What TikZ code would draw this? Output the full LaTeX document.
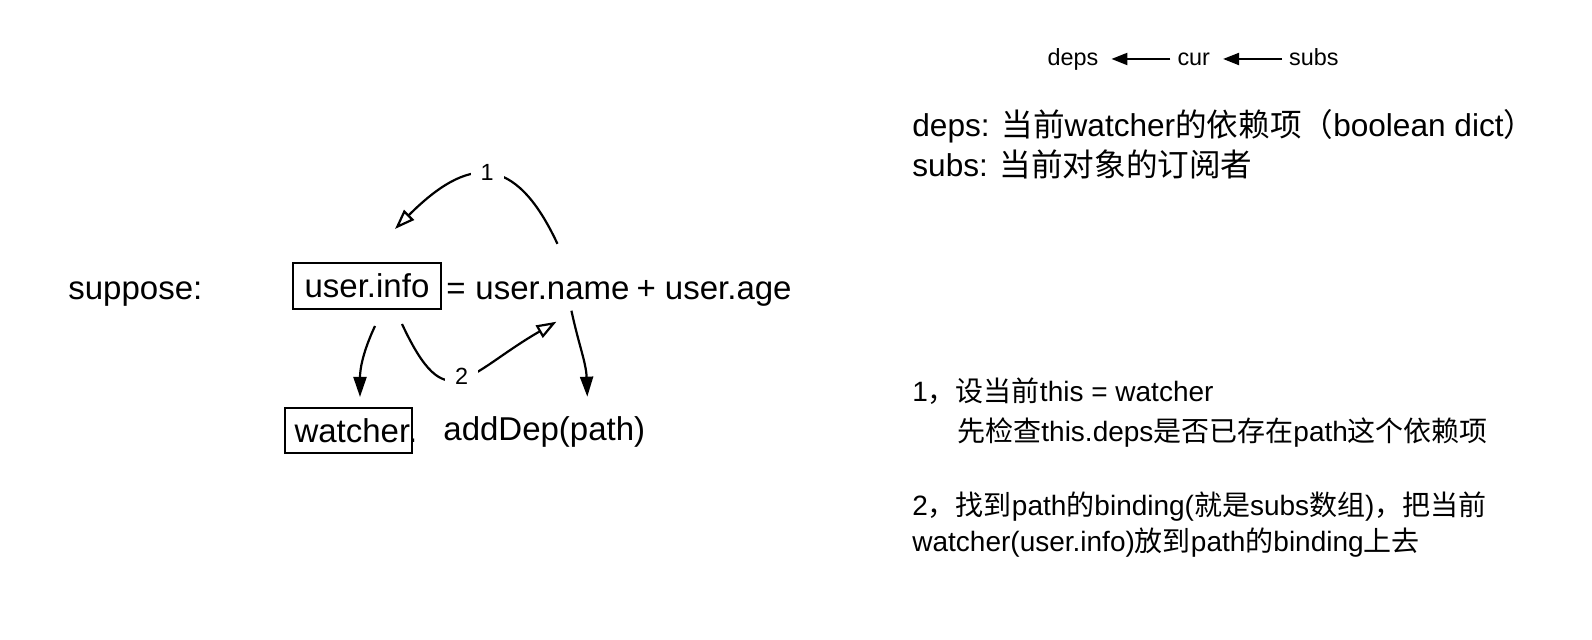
\documentclass[tikz,border=0pt]{standalone}
\usepackage{fontspec}
\setmainfont{Liberation Sans}
\newfontfamily\cjk{Noto Sans CJK SC}
\usetikzlibrary{arrows.meta}
\usetikzlibrary{positioning}
\newcommand{\zh}[1]{{\cjk #1}}
\tikzset{big/.style = {font=\fontsize{16.5}{20}\selectfont},
         small/.style = {font=\fontsize{11.7}{14}\selectfont, text height=1.5ex, text depth=.3ex},
         word/.style = {big, anchor=base west, inner sep=0pt},
         note/.style = {font=\fontsize{15.8}{20}\selectfont, anchor=base west, inner sep=0pt},
         remark/.style = {font=\fontsize{14}{18}\selectfont, anchor=base west, inner sep=0pt},
         box/.style = {big, draw, line width=1pt},
         fullhead/.style = {line width=1.1pt, -{Triangle[length=10pt, width=6.5pt]}},
         openhead/.style = {line width=1.1pt, -{Triangle[open, length=10pt, width=7pt]}},
         smallhead/.style = {line width=1.1pt, -{Triangle[length=8pt, width=6pt]}, shorten >=3pt}}

\begin{document}
\begin{tikzpicture}[x=0.5pt, y=-0.5pt, node distance=32.5pt]
    \useasboundingbox (0, 0) rectangle (1592, 640);

    \node[small] (deps) at (1073, 59) {deps};
    \node[small, right=of deps] (cur) {cur};
    \node[small, right=of cur] (subs) {subs};
    \draw[smallhead] (cur) -- (deps);
    \draw[smallhead] (subs) -- (cur);

    \node[word] (suppose) at (68, 300) {suppose:};
    \node[box, minimum width=74pt, minimum height=23pt] (info) at (367, 286) {user.info};
    \node[word] (eq) at (446, 300) {=};
    \node[word] (name) at (475, 300) {user.name};
    \node[word, anchor=base east] (age) at (792, 300) {+ user.age};
    \node[box, text width=54pt, inner xsep=4.75pt, minimum height=22.5pt, align=left] (watcher) at (348.5, 430.5) {watcher.};
    \node[word] (adddep) at (443, 441) {addDep(path)};

    \coordinate (n1) at ([shift={(5, -38)}]name.north);
    \coordinate (i1) at ([shift={(28, -33)}]info.north);
    \coordinate (i2) at ([shift={(35, 14)}]info.south);
    \coordinate (n2) at ([shift={(4, 21)}]name.south);
    \coordinate (i3) at ([shift={(8, 16)}]info.south);
    \coordinate (w1) at ([shift={(11.5, -10)}]watcher.north);
    \coordinate (n3) at ([shift={(19, 10)}]name.south);
    \coordinate (a1) at ([shift={(43, -20)}]adddep.north);

    \draw[openhead] (n1) to[out=115, in=45, looseness=1.6] node[small, fill=white, inner xsep=5pt] (one) {1} (i1);
    \draw[openhead] (i2) to[out=-65, in=210, looseness=1.75] node[small, fill=white, inner xsep=5pt] (two) {2} (n2);
    \draw[fullhead] (i3) to[out=-115, in=90] (w1);
    \draw[fullhead] (n3) to[out=-78, in=92] (a1);

    \node[note] (depsnote) at (912, 137) {deps: \zh{当前}watcher\zh{的依赖项（}boolean dict\zh{）}};
    \node[note] (subsnote) at (912, 177) {subs: \zh{当前对象的订阅者}};
    \node[remark] (step1) at (912, 402) {1\zh{，设当前}this = watcher};
    \node[remark] (step1b) at (957, 442) {\zh{先检查}this.deps\zh{是否已存在}path\zh{这个依赖项}};
    \node[remark] (step2) at (912, 516) {2\zh{，找到}path\zh{的}binding(\zh{就是}subs\zh{数组})\zh{，把当前}};
    \node[remark] (step2b) at (912, 552) {watcher(user.info)\zh{放到}path\zh{的}binding\zh{上去}};
\end{tikzpicture}
\end{document}
